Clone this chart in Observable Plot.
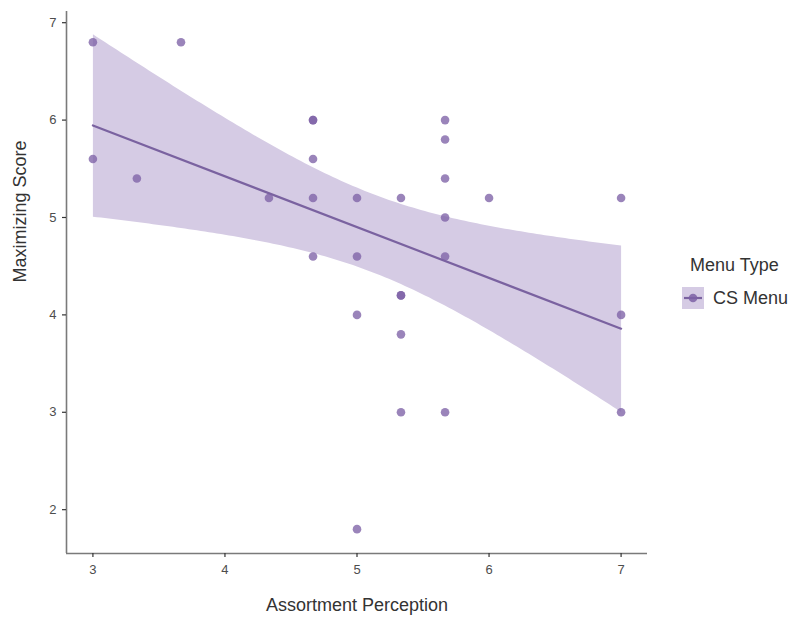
<!DOCTYPE html>
<html>
<head>
<meta charset="utf-8">
<script src="https://cdn.jsdelivr.net/npm/d3@7"></script>
<script src="https://cdn.jsdelivr.net/npm/@observablehq/plot@0.6"></script>
<style>
  html, body { margin: 0; padding: 0; background: #fff; }
  #wrap { position: relative; width: 805px; height: 617px; font-family: "Liberation Sans", Arial, sans-serif; }
  #legend { position: absolute; left: 680px; top: 255px; color: #333; }
  #legend .title { font-size: 18px; margin-left: 10px; }
  #legend .row { display: flex; align-items: center; margin-top: 11px; margin-left: 0px; }
  #legend .row span { font-size: 18px; margin-left: 5px; }
</style>
</head>
<body>
<div id="wrap"></div>
<script>
const perception = [3, 3, 3.333, 3.667, 4.333, 4.667, 4.667, 4.667, 4.667, 4.667,
  5, 5, 5, 5, 5.333, 5.333, 5.333, 5.333, 5.333,
  5.667, 5.667, 5.667, 5.667, 5.667, 5.667, 6, 7, 7, 7];
const maximizing = [6.8, 5.6, 5.4, 6.8, 5.2, 6.0, 6.0, 5.6, 5.2, 4.6,
  5.2, 4.6, 4.0, 1.8, 5.2, 4.2, 4.2, 3.8, 3.0,
  6.0, 5.8, 5.4, 5.0, 4.6, 3.0, 5.2, 5.2, 4.0, 3.0];
const menuType = "CS Menu";
const xTicks = [3, 4, 5, 6, 7];
const yTicks = [2, 3, 4, 5, 6, 7];
const xDomain = [2.8, 7.2];
const yDomain = [1.55, 7.115];

const data = perception.map((x, i) => ({x, y: maximizing[i], menu: menuType}));

const pointColor = "#7d62a6";
const lineColor = "#7a62a0";
const bandColor = "#d5cbe4";
const axisColor = "#7a7a7a";

const chart = Plot.plot({
  width: 805,
  height: 617,
  marginLeft: 66,
  marginRight: 158,
  marginTop: 11,
  marginBottom: 64,
  style: {fontFamily: "Liberation Sans, Arial, sans-serif", background: "#fff"},
  x: {domain: xDomain},
  y: {domain: yDomain},
  marks: [
    Plot.linearRegressionY(data, {x: "x", y: "y", ci: 0.95, fill: bandColor, fillOpacity: 1, stroke: lineColor, strokeWidth: 2.2}),
    Plot.dot(data, {x: "x", y: "y", r: 4.3, fill: pointColor, fillOpacity: 0.78, stroke: "none"}),
    Plot.ruleX([xDomain[0]], {y1: yDomain[0], y2: yDomain[1], stroke: axisColor, strokeWidth: 1.6}),
    Plot.ruleY([yDomain[0]], {x1: xDomain[0], x2: xDomain[1], stroke: axisColor, strokeWidth: 1.6}),
    Plot.axisX(xTicks, {tickSize: 4, tickPadding: 7, fontSize: 13, tickFormat: "d", stroke: "#333", strokeWidth: 1.2, color: "#4d4d4d", label: null}),
    Plot.axisY(yTicks, {tickSize: 4, tickPadding: 6, fontSize: 13, tickFormat: "d", stroke: "#333", strokeWidth: 1.2, color: "#4d4d4d", label: null}),
    Plot.text(["Assortment Perception"], {frameAnchor: "bottom", dy: 57, fontSize: 18, fill: "#333"}),
    Plot.text(["Maximizing Score"], {frameAnchor: "left", dx: -46, rotate: -90, fontSize: 18, fill: "#333"})
  ]
});
d3.select(chart).selectAll("[aria-label^='x-axis tick label'] text, [aria-label^='y-axis tick label'] text").attr("fill", "#4d4d4d");

const wrap = document.getElementById("wrap");
wrap.appendChild(chart);

// legend
const legend = document.createElement("div");
legend.id = "legend";
legend.innerHTML = `<div class="title">Menu Type</div><div class="row"></div>`;
wrap.appendChild(legend);
const key = d3.select(legend.querySelector(".row")).append("svg").attr("width", 28).attr("height", 22);
key.append("rect").attr("x", 2).attr("y", 0).attr("width", 22).attr("height", 22).attr("fill", bandColor);
key.append("line").attr("x1", 4).attr("x2", 22).attr("y1", 11).attr("y2", 11).attr("stroke", lineColor).attr("stroke-width", 2.2);
key.append("circle").attr("cx", 13).attr("cy", 11).attr("r", 4.3).attr("fill", pointColor).attr("fill-opacity", 0.85);
d3.select(legend.querySelector(".row")).append("span").text(menuType);
</script>
</body>
</html>
